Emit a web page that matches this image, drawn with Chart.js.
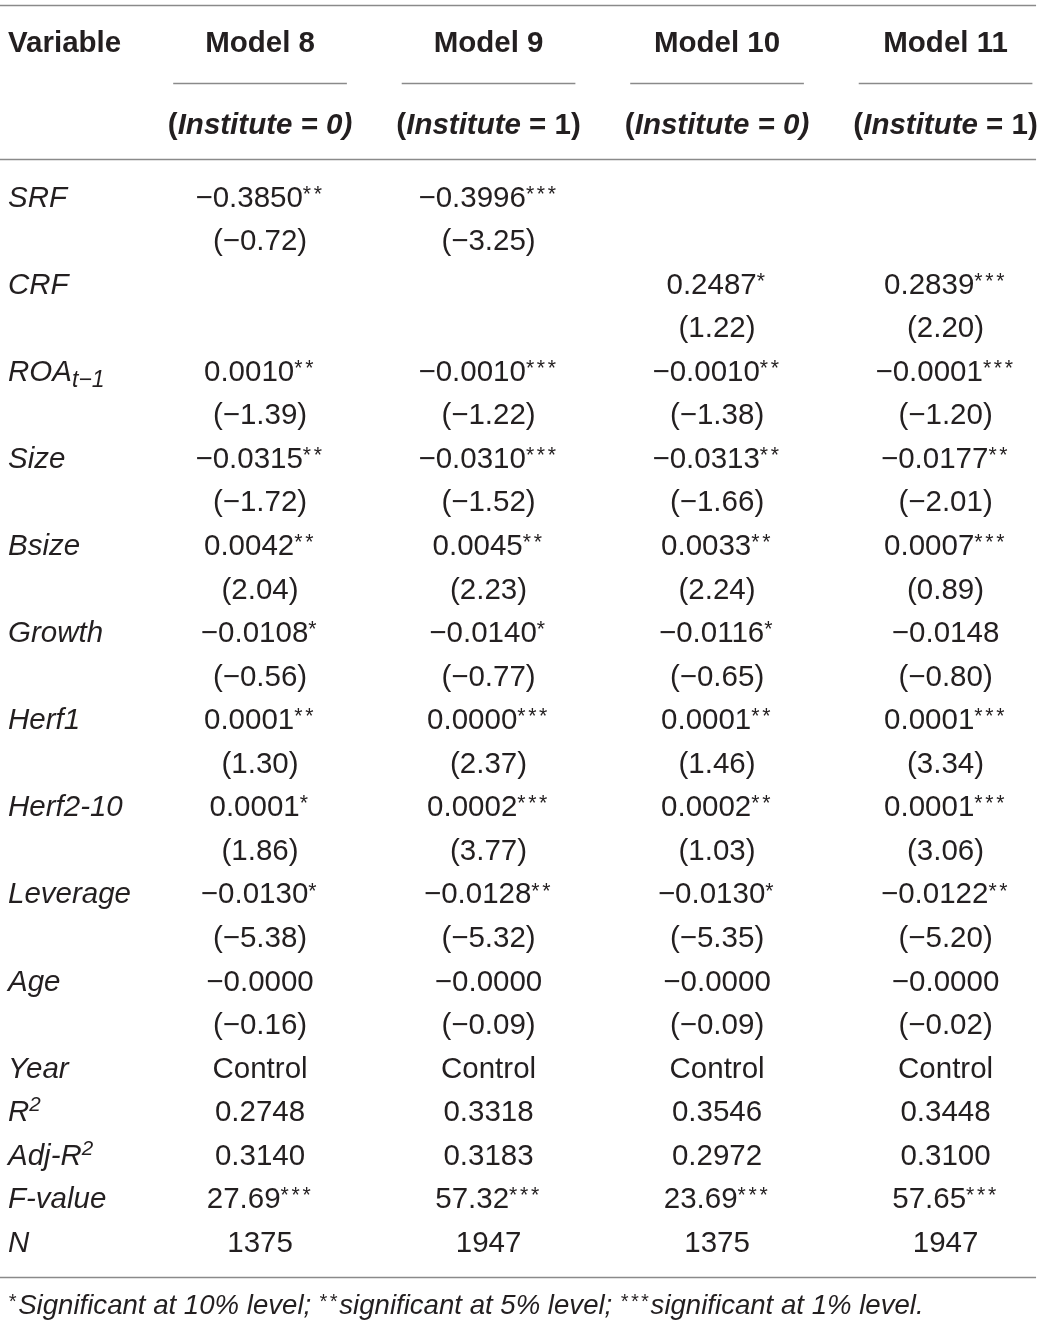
<!DOCTYPE html>
<html>
<head>
<meta charset="utf-8">
<script src="https://cdn.jsdelivr.net/npm/chart.js@4.4.1/dist/chart.umd.min.js"></script>
<style>
  html, body { margin: 0; background: #fff; }
  #wrap { width: 1042px; height: 1325px; position: relative; }
</style>
</head>
<body>
<div id="wrap"><canvas id="table"></canvas></div>
<script>
// table content
const variables = ['SRF', 'CRF', 'ROA_{t−1}', 'Size', 'Bsize', 'Growth', 'Herf1', 'Herf2-10', 'Leverage', 'Age'];
const models = ['Model 8', 'Model 9', 'Model 10', 'Model 11'];
const institute = [0, 1, 0, 1];

const coefModel8  = ['−0.3850**', '', '0.0010**', '−0.0315**', '0.0042**', '−0.0108*', '0.0001**', '0.0001*', '−0.0130*', '−0.0000'];
const tModel8     = ['(−0.72)', '', '(−1.39)', '(−1.72)', '(2.04)', '(−0.56)', '(1.30)', '(1.86)', '(−5.38)', '(−0.16)'];
const coefModel9  = ['−0.3996***', '', '−0.0010***', '−0.0310***', '0.0045**', '−0.0140*', '0.0000***', '0.0002***', '−0.0128**', '−0.0000'];
const tModel9     = ['(−3.25)', '', '(−1.22)', '(−1.52)', '(2.23)', '(−0.77)', '(2.37)', '(3.77)', '(−5.32)', '(−0.09)'];
const coefModel10 = ['', '0.2487*', '−0.0010**', '−0.0313**', '0.0033**', '−0.0116*', '0.0001**', '0.0002**', '−0.0130*', '−0.0000'];
const tModel10    = ['', '(1.22)', '(−1.38)', '(−1.66)', '(2.24)', '(−0.65)', '(1.46)', '(1.03)', '(−5.35)', '(−0.09)'];
const coefModel11 = ['', '0.2839***', '−0.0001***', '−0.0177**', '0.0007***', '−0.0148', '0.0001***', '0.0001***', '−0.0122**', '−0.0000'];
const tModel11    = ['', '(2.20)', '(−1.20)', '(−2.01)', '(0.89)', '(−0.80)', '(3.34)', '(3.06)', '(−5.20)', '(−0.02)'];

const statLabels = ['Year', 'R^{2}', 'Adj-R^{2}', 'F-value', 'N'];
const yearRow  = ['Control', 'Control', 'Control', 'Control'];
const r2Row    = ['0.2748', '0.3318', '0.3546', '0.3448'];
const adjR2Row = ['0.3140', '0.3183', '0.2972', '0.3100'];
const fRow     = ['27.69***', '57.32***', '23.69***', '57.65***'];
const nRow     = ['1375', '1947', '1375', '1947'];

const footnote = '*Significant at 10% level; **significant at 5% level; ***significant at 1% level.';

const coefs = [coefModel8, coefModel9, coefModel10, coefModel11];
const tstats = [tModel8, tModel9, tModel10, tModel11];
const stats = [yearRow, r2Row, adjR2Row, fRow, nRow];

// layout (in scale units)
const X_MIN = -0.138, X_MAX = 4.422, X_RULE_END = 4.396;
const Y_MIN = -4.501, Y_MAX = 25.924;
const HEAD_Y = -3.56, SUBHEAD_Y = -1.676;
const RULE_TOP = -4.386, RULE_MID = -2.606, RULE_HEAD = -0.861, RULE_BOTTOM = 24.822, FOOT_Y = 25.44;

const FAMILY = '"Liberation Sans", Arial, Helvetica, sans-serif';
const SIZE = 29.5;
const FOOT_SIZE = 27.6;
const TEXT = '#231f20';
const RULE = '#8a8a8a';

// build cells
const labelCells = [];
variables.forEach((v, k) => labelCells.push({ x: X_MIN, y: 2 * k, text: v }));
statLabels.forEach((v, j) => labelCells.push({ x: X_MIN, y: 20 + j, text: v }));

function modelCells(m) {
  const cells = [];
  variables.forEach((v, k) => {
    if (coefs[m][k]) cells.push({ x: m + 1, y: 2 * k, text: coefs[m][k] });
    if (tstats[m][k]) cells.push({ x: m + 1, y: 2 * k + 1, text: tstats[m][k] });
  });
  stats.forEach((row, j) => cells.push({ x: m + 1, y: 20 + j, text: row[m] }));
  return cells;
}

// split markup into runs: _{sub} ^{sup} and star runs
function parse(str, italic, bold) {
  const segs = [];
  const re = /_\{([^}]*)\}|\^\{([^}]*)\}|(\*+)/g;
  let last = 0, m;
  while ((m = re.exec(str))) {
    if (m.index > last) segs.push({ t: str.slice(last, m.index), i: italic, b: bold, pos: 'base' });
    if (m[1] !== undefined) segs.push({ t: m[1], i: italic, b: bold, pos: 'sub' });
    else if (m[2] !== undefined) segs.push({ t: m[2], i: italic, b: bold, pos: 'sup' });
    else segs.push({ t: m[3], i: italic, b: bold, pos: 'star' });
    last = re.lastIndex;
  }
  if (last < str.length) segs.push({ t: str.slice(last), i: italic, b: bold, pos: 'base' });
  return segs;
}

function drawSegs(ctx, segs, x, yMid, align, size) {
  const scale = { base: 1, sub: 0.78, sup: 0.7, star: 0.72 };
  const shift = { base: 0, sub: 0.22, sup: -0.33, star: -0.2 };
  const starStep = 0.37 * size;
  const fontOf = s => (s.i ? 'italic ' : '') + (s.b ? 'bold ' : '') + (size * scale[s.pos]).toFixed(1) + 'px ' + FAMILY;
  let w = 0;
  segs.forEach(s => {
    ctx.font = fontOf(s);
    s.w = s.pos === 'star' ? s.t.length * starStep : ctx.measureText(s.t).width;
    w += s.w;
  });
  let cx = align === 'center' ? x - w / 2 : x;
  const base = yMid + size * 0.36;
  segs.forEach(s => {
    ctx.font = fontOf(s);
    const by = base + shift[s.pos] * size;
    if (s.pos === 'star') {
      for (let k = 0; k < s.t.length; k++) ctx.fillText('*', cx + k * starStep, by);
    } else {
      ctx.fillText(s.t, cx, by);
    }
    cx += s.w;
  });
}

const tablePlugin = {
  id: 'tablePlugin',
  afterDatasetsDraw(chart) {
    const { ctx, scales: { x, y } } = chart;
    ctx.save();
    ctx.textBaseline = 'alphabetic';
    ctx.textAlign = 'left';

    // rules
    ctx.strokeStyle = RULE;
    ctx.lineWidth = 1.6;
    const hline = (x0, x1, yv) => {
      const py = Math.round(y.getPixelForValue(yv)) + 0.5;
      ctx.beginPath(); ctx.moveTo(x0, py); ctx.lineTo(x1, py); ctx.stroke();
    };
    const left = x.getPixelForValue(X_MIN), right = x.getPixelForValue(X_RULE_END);
    hline(left, right, RULE_TOP);
    hline(left, right, RULE_HEAD);
    hline(left, right, RULE_BOTTOM);
    models.forEach((md, m) => {
      hline(x.getPixelForValue(m + 0.62), Math.min(right, x.getPixelForValue(m + 1.38)), RULE_MID);
    });

    ctx.fillStyle = TEXT;
    // header
    drawSegs(ctx, parse('Variable', false, true), left + 8, y.getPixelForValue(HEAD_Y), 'left', SIZE);
    models.forEach((md, m) => {
      const cx = x.getPixelForValue(m + 1);
      drawSegs(ctx, parse(md, false, true), cx, y.getPixelForValue(HEAD_Y), 'center', SIZE);
      const v = institute[m];
      const segs = v === 0
        ? [{ t: '(', b: true, i: false, pos: 'base' }, { t: 'Institute = 0)', b: true, i: true, pos: 'base' }]
        : [{ t: '(', b: true, i: false, pos: 'base' }, { t: 'Institute', b: true, i: true, pos: 'base' }, { t: ' = 1)', b: true, i: false, pos: 'base' }];
      drawSegs(ctx, segs, cx, y.getPixelForValue(SUBHEAD_Y), 'center', SIZE);
    });

    // body cells from dataset elements
    chart.data.datasets.forEach((ds, di) => {
      const meta = chart.getDatasetMeta(di);
      meta.data.forEach((el, j) => {
        const cell = ds.data[j];
        if (ds.isLabel) drawSegs(ctx, parse(cell.text, true, false), el.x + 8, el.y, 'left', SIZE);
        else drawSegs(ctx, parse(cell.text, false, false), el.x, el.y, 'center', SIZE);
      });
    });

    // footnote
    drawSegs(ctx, parse(footnote, true, false), left + 8, y.getPixelForValue(FOOT_Y), 'left', FOOT_SIZE);
    ctx.restore();
  }
};

const datasets = [{ label: 'Variable', data: labelCells, isLabel: true, pointRadius: 0 }]
  .concat(models.map((md, m) => ({ label: md, data: modelCells(m), pointRadius: 0 })));

new Chart(document.getElementById('table'), {
  type: 'scatter',
  data: { datasets },
  options: {
    responsive: true,
    maintainAspectRatio: false,
    animation: false,
    layout: { padding: 0 },
    plugins: { legend: { display: false }, tooltip: { enabled: false } },
    scales: {
      x: { type: 'linear', min: X_MIN, max: X_MAX, display: false },
      y: { type: 'linear', min: Y_MIN, max: Y_MAX, reverse: true, display: false }
    }
  },
  plugins: [tablePlugin]
});
</script>
</body>
</html>
